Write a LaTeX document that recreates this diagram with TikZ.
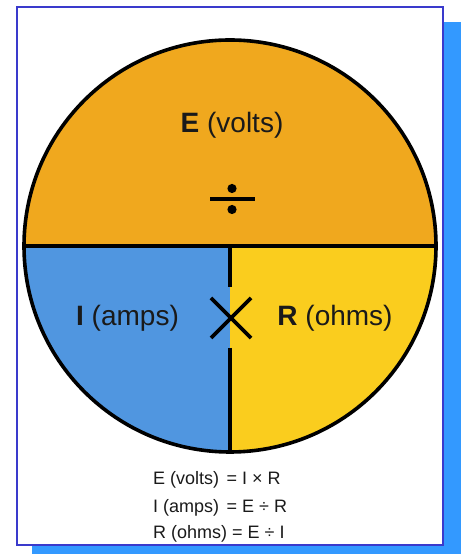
\documentclass[tikz,border=0pt]{standalone}
\usepackage{fontspec}
\setmainfont{Liberation Sans}
\definecolor{boxblue}{HTML}{3A3ACC}
\definecolor{shadowblue}{HTML}{3399FF}
\definecolor{eorange}{HTML}{F0A81E}
\definecolor{iblue}{HTML}{5096E0}
\definecolor{ryellow}{HTML}{FACD1E}
\definecolor{ink}{HTML}{1A1A1A}
\begin{document}
\begin{tikzpicture}[x=1pt,y=1pt,
  big/.style={font=\fontsize{28}{30}\selectfont, text=ink, inner sep=0pt, anchor=base},
  small/.style={font=\fontsize{18}{19}\selectfont, text=ink, inner sep=0pt, anchor=base west},
  thick line/.style={line width=3.6pt, draw=black}]
\useasboundingbox (0,0) rectangle (461,554);
% shadow and box
\fill[shadowblue] (32,0) rectangle (461,532);
\draw[boxblue, fill=white, line width=1.8pt] (17,9) rectangle (443,547);
% sectors
\coordinate (c) at (230,308);
\fill[eorange] (24,308) arc[start angle=180, end angle=0, radius=206] -- cycle;
\fill[iblue] (c) -- (24,308) arc[start angle=180, end angle=270, radius=206] -- cycle;
\fill[ryellow] (c) -- (230,102) arc[start angle=270, end angle=360, radius=206] -- cycle;
% lines
\draw[thick line] (24,308) -- (436,308);
\draw[thick line] (230,308) -- (230,267);
\draw[thick line] (230,206) -- (230,102);
\draw[thick line] (c) circle[radius=206];
% times sign
\draw[thick line] (211,256) -- (251,216);
\draw[thick line] (211,216) -- (251,256);
% divide sign
\fill[black] (209.5,352.8) rectangle (254.5,357.2);
\fill[black] (232,365.5) circle[radius=4.6];
\fill[black] (232,344.5) circle[radius=4.6];
% labels
\node[big] (e) at (232,421) {\textbf{E} (volts)};
\node[big] (i) at (127.5,228) {\textbf{I} (amps)};
\node[big] (r) at (335,228) {\textbf{R} (ohms)};
% formulas
\node[small] (f1l) at (153,69) {E (volts)};
\node[small] (f1r) at (226.5,69) {= I × R};
\node[small] (f2l) at (153,41) {I (amps)};
\node[small] (f2r) at (226.5,41) {= E ÷ R};
\node[small] (f3) at (153,15) {R (ohms) = E ÷ I};
\end{tikzpicture}
\end{document}
